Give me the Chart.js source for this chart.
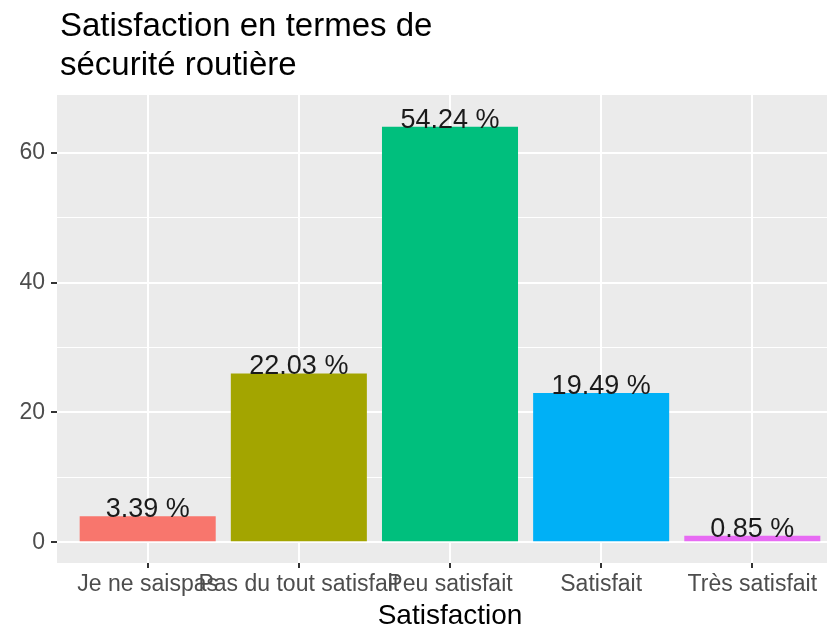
<!DOCTYPE html>
<html>
<head>
<meta charset="utf-8">
<script src="https://cdn.jsdelivr.net/npm/chart.js@4.4.0/dist/chart.umd.min.js"></script>
<style>
  html, body { margin: 0; padding: 0; background: #fff; overflow: hidden; width: 827px; height: 626px; }
</style>
</head>
<body>
<!-- panel runs a little past the right edge, as in the original export -->
<canvas id="chart" width="843" height="626"></canvas>
<script>
// Data
const categories = ['Je ne saispas', 'Pas du tout satisfait', 'Peu satisfait', 'Satisfait', 'Très satisfait'];
const counts = [4, 26, 64, 23, 1];
const barColors = ['#F8766D', '#A3A500', '#00BF7D', '#00B0F6', '#E76BF3'];
const yTicks = [0, 10, 20, 30, 40, 50, 60];
const titleLines = ['Satisfaction en termes de', 'sécurité routière'];

const total = counts.reduce((a, b) => a + b, 0);
const pctLabels = counts.map((v) => (v / total * 100).toFixed(2) + ' %');

const FONT = "'Liberation Sans', Arial, sans-serif";
Chart.defaults.font.family = FONT;

// Grey ggplot panel
const panelBg = {
  id: 'panelBg',
  beforeDraw(chart) {
    const { ctx, chartArea: a } = chart;
    ctx.save();
    ctx.fillStyle = '#EBEBEB';
    ctx.fillRect(a.left, a.top, a.width, a.height);
    ctx.restore();
  },
};

// Percent labels above bars
const barLabels = {
  id: 'barLabels',
  afterDatasetsDraw(chart) {
    const { ctx } = chart;
    const meta = chart.getDatasetMeta(0);
    ctx.save();
    ctx.font = '27px ' + FONT;
    ctx.fillStyle = '#1a1a1a';
    ctx.textAlign = 'center';
    ctx.textBaseline = 'alphabetic';
    meta.data.forEach((bar, i) => {
      ctx.fillText(pctLabels[i], bar.x, bar.y + 1);
    });
    ctx.restore();
  },
};

// Left aligned two-line title
const plotTitle = {
  id: 'plotTitle',
  afterDraw(chart) {
    const { ctx, chartArea: a } = chart;
    ctx.save();
    ctx.font = '33px ' + FONT;
    ctx.fillStyle = '#000';
    ctx.textAlign = 'left';
    ctx.textBaseline = 'alphabetic';
    ctx.fillText(titleLines[0], a.left + 3, 36);
    ctx.fillText(titleLines[1], a.left + 3, 75);
    ctx.restore();
  },
};

new Chart(document.getElementById('chart'), {
  type: 'bar',
  data: {
    datasets: [
      {
        data: counts.map((v, i) => ({ x: i, y: v })),
        backgroundColor: barColors,
        borderWidth: 0,
        barPercentage: 0.9,
        categoryPercentage: 1,
      },
    ],
  },
  options: {
    responsive: false,
    devicePixelRatio: 1,
    animation: false,
    layout: { padding: { top: 95, left: 0, right: 0, bottom: 0 } },
    plugins: {
      legend: { display: false },
      tooltip: { enabled: false },
    },
    scales: {
      x: {
        type: 'linear',
        min: -0.6,
        max: 4.6,
        offset: false,
        afterBuildTicks: (s) => {
          s.ticks = categories.map((c, i) => ({ value: i }));
        },
        afterFit: (s) => {
          s.height = 63;
        },
        grid: {
          offset: false,
          color: '#FFFFFF',
          lineWidth: 2,
          tickLength: 5,
          tickWidth: 2,
          tickColor: '#333333',
        },
        border: { display: false },
        ticks: {
          autoSkip: false,
          maxRotation: 0,
          color: '#4D4D4D',
          font: { size: 23 },
          padding: 3,
          callback: (v) => categories[v] ?? '',
        },
        title: {
          display: true,
          text: 'Satisfaction',
          color: '#000',
          font: { size: 28, lineHeight: 1 },
          padding: { top: 0, bottom: -4 },
        },
      },
      y: {
        type: 'linear',
        min: -3.2,
        max: 68.9,
        afterBuildTicks: (s) => {
          s.ticks = yTicks.map((v) => ({ value: v }));
        },
        afterFit: (s) => {
          s.width = 57;
        },
        grid: {
          color: '#FFFFFF',
          lineWidth: (ctx) => (ctx.tick && ctx.tick.value % 20 === 0 ? 2 : 1),
          tickLength: 6,
          tickWidth: 2,
          tickColor: (ctx) => (ctx.tick && ctx.tick.value % 20 === 0 ? '#333333' : 'rgba(0,0,0,0)'),
        },
        border: { display: false },
        ticks: {
          color: '#4D4D4D',
          font: { size: 23 },
          padding: 6,
          callback: (v) => (v % 20 === 0 ? v : ''),
        },
      },
    },
  },
  plugins: [panelBg, barLabels, plotTitle],
});
</script>
</body>
</html>
